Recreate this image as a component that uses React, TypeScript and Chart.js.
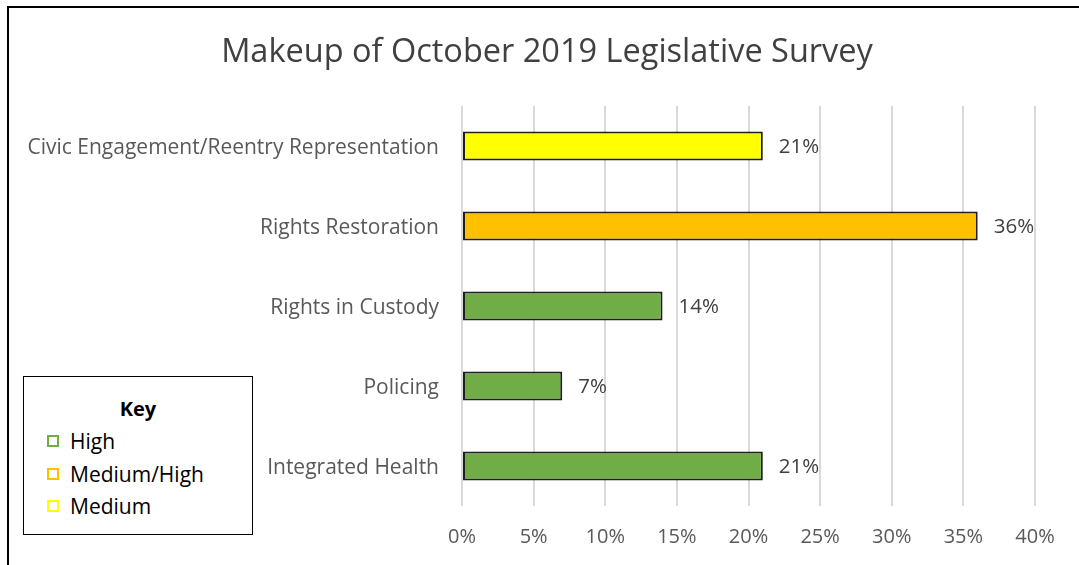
import React, { useEffect, useRef } from "react";
import { Chart, registerables } from "chart.js";

Chart.register(...registerables);

const categories = [
  "Civic Engagement/Reentry Representation",
  "Rights Restoration",
  "Rights in Custody",
  "Policing",
  "Integrated Health",
];
const values = [21, 36, 14, 7, 21];
const barColors = ["#FFFF00", "#FFC000", "#70AD47", "#70AD47", "#70AD47"];
const xTicks = [0, 5, 10, 15, 20, 25, 30, 35, 40];
const keyLabels = ["High", "Medium/High", "Medium"];
const keyColors = ["#70AD47", "#FFC000", "#FFFF00"];
const titleText = "Makeup of October 2019 Legislative Survey";
const FONT = "'Open Sans', 'Noto Sans', sans-serif";

const dataLabelPlugin = {
  id: "dataLabels",
  afterDatasetsDraw(chart: any) {
    const ctx = chart.ctx;
    const meta = chart.getDatasetMeta(0);
    ctx.save();
    ctx.font = `20.5px ${FONT}`;
    ctx.fillStyle = "#404040";
    ctx.textAlign = "left";
    ctx.textBaseline = "middle";
    meta.data.forEach((bar: any, i: number) => {
      ctx.fillText(`${values[i]}%`, bar.x + 16, bar.y + 1.5);
    });
    ctx.restore();
  },
};

const titlePlugin = {
  id: "customTitle",
  afterDraw(chart: any) {
    const ctx = chart.ctx;
    ctx.save();
    ctx.font = `32.5px ${FONT}`;
    ctx.fillStyle = "#404040";
    ctx.textAlign = "center";
    ctx.textBaseline = "middle";
    ctx.fillText(titleText, 547, 52.5);
    ctx.restore();
  },
};

export default function App() {
  const ref = useRef<HTMLCanvasElement>(null);
  useEffect(() => {
    if (!ref.current) return;
    const chart = new Chart(ref.current, {
      type: "bar",
      data: {
        labels: categories,
        datasets: [
          {
            data: values,
            backgroundColor: barColors,
            borderColor: "#1f1f1f",
            borderWidth: 2,
            borderSkipped: false,
            barPercentage: 0.36,
            categoryPercentage: 1,
          },
        ],
      },
      options: {
        indexAxis: "y",
        responsive: false,
        animation: false,
        layout: { padding: { left: 0, right: 44, top: 106, bottom: 0 } },
        plugins: {
          legend: { display: false },
          tooltip: { enabled: false },
          title: { display: false },
        },
        scales: {
          x: {
            min: 0,
            max: 40,
            afterBuildTicks(scale: any) {
              scale.ticks = xTicks.map((v) => ({ value: v }));
            },
            afterFit(scale: any) {
              scale.height = 59;
            },
            ticks: {
              callback: (v: any) => `${v}%`,
              color: "#595959",
              font: { family: FONT, size: 20 },
              padding: 19,
            },
            grid: { color: "#d9d9d9", lineWidth: 2, drawTicks: false },
            border: { display: false },
          },
          y: {
            afterFit(scale: any) {
              scale.width = 462;
            },
            ticks: {
              color: "#595959",
              font: { family: FONT, size: 21 },
              padding: 23,
              labelOffset: 2,
            },
            grid: { display: false, drawTicks: false },
            border: { display: false },
          },
        },
      },
      plugins: [dataLabelPlugin, titlePlugin],
    });
    return () => chart.destroy();
  }, []);

  return (
    <div style={{ position: "fixed", left: 0, top: 0, width: 1079, height: 565, overflow: "hidden", background: "#fff" }}>
      <canvas ref={ref} width={1079} height={565} style={{ position: "absolute", left: 0, top: 0 }} />
      <div
        style={{
          position: "absolute",
          left: 7,
          top: 6,
          width: 1200,
          height: 700,
          border: "2px solid #000",
          pointerEvents: "none",
        }}
      />
      <div
        style={{
          position: "absolute",
          left: 23,
          top: 376,
          width: 228,
          height: 157,
          border: "1.5px solid #000",
          background: "#fff",
          fontFamily: FONT,
          color: "#000",
          boxSizing: "content-box",
        }}
      >
        <div style={{ position: "absolute", top: 20, left: 0, width: "100%", textAlign: "center", fontWeight: "bold", fontSize: 20, lineHeight: "24px" }}>
          Key
        </div>
        {keyLabels.map((lab, i) => (
          <div key={lab} style={{ position: "absolute", left: 23, top: 52 + i * 32.5, fontSize: 21, lineHeight: "24px", display: "flex", alignItems: "center" }}>
            <span style={{ display: "inline-block", width: 8, height: 8, border: `2px solid ${keyColors[i]}`, marginRight: 11 }} />
            <span>{lab}</span>
          </div>
        ))}
      </div>
    </div>
  );
}
